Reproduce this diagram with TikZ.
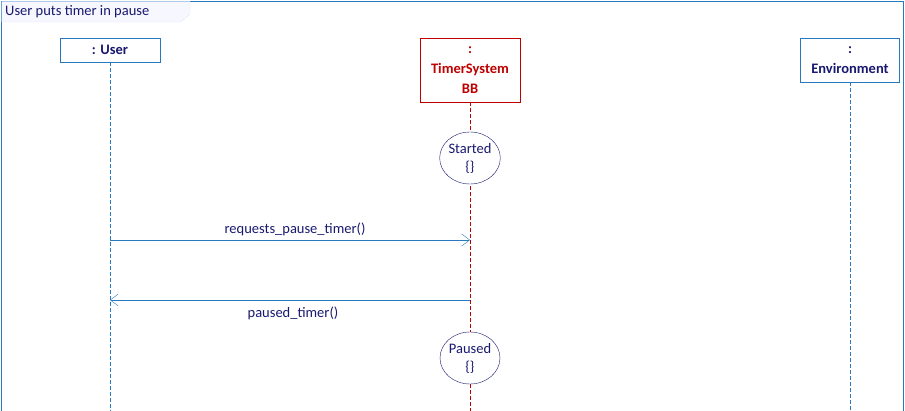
\documentclass[tikz,border=0pt]{standalone}
\usepackage{fontspec}
\setmainfont{Carlito}
\usetikzlibrary{arrows.meta,shapes.geometric}
\definecolor{navy}{RGB}{25,25,112}
\definecolor{lblue}{RGB}{40,120,190}
\definecolor{dred}{RGB}{190,0,0}
\begin{document}
\begin{tikzpicture}[x=1pt,y=-1pt,
  life/.style={draw=lblue,rectangle,minimum width=100pt,font=\bfseries\fontsize{14.5}{20}\selectfont,text=navy,align=center,inner sep=1pt},
  lline/.style={lblue,dashed,dash pattern=on 4pt off 2pt},
  st/.style={draw=navy,ellipse,minimum width=60pt,minimum height=52pt,inner sep=0pt,align=center,text=navy,font=\fontsize{14.5}{18}\selectfont,fill=white},
  msg/.style={lblue,-{Straight Barb[length=8pt,width=12pt]}},
  lab/.style={text=navy,font=\fontsize{14.5}{17}\selectfont}]
\useasboundingbox (0,0) rectangle (905,411);
\draw[lblue] (1,411) -- (1,1) -- (903,1) -- (903,411);
\fill[blue!3] (1.5,1.5) -- (190,1.5) -- (190,14) -- (181,22) -- (1.5,22) -- cycle;
\draw[blue!10] (190,1.5) -- (190,14) -- (181,22) -- (1.5,22);
\node[anchor=west,text=navy,font=\fontsize{14.5}{17}\selectfont,inner sep=0pt] (title) at (5,12) {User puts timer in pause};
\node[life,minimum height=24pt] (u) at (110,50) {: User};
\node[life,draw=dred,text=dred,minimum height=64pt] (t) at (470,70) {:\\TimerSystem\\BB};
\node[life,minimum height=44pt,minimum width=99pt] (e) at (850,60) {:\\Environment};
\coordinate (ub) at (110,411);
\coordinate (tb) at (470,411);
\coordinate (eb) at (850,411);
\draw[lline] (u.south) -- (ub);
\draw[lline,dred] (t.south) -- (tb);
\draw[lline] (e.south) -- (eb);
\node[st] (s1) at (470,158) {Started\\\{\}};
\node[st] (s2) at (470,358) {Paused\\\{\}};
\coordinate (m1a) at (110,240);
\coordinate (m1b) at (470,240);
\coordinate (m2a) at (470,300);
\coordinate (m2b) at (110,300);
\draw[msg] (m1a) -- node[lab,above=1pt,xshift=5pt] {requests\_pause\_timer()} (m1b);
\draw[msg] (m2a) -- node[lab,below=3pt,xshift=3pt] {paused\_timer()} (m2b);
\end{tikzpicture}
\end{document}
